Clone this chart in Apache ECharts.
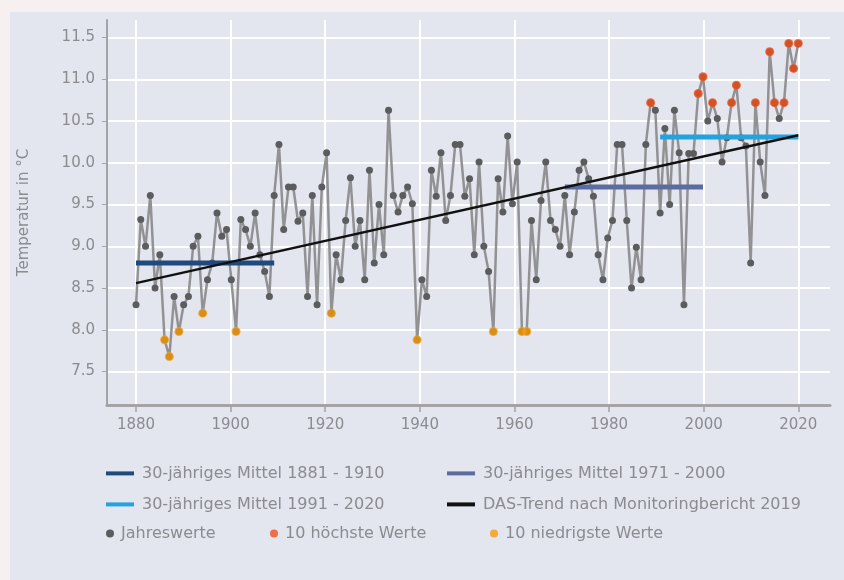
<!DOCTYPE html>
<html><head><meta charset="utf-8">
<script src="https://cdn.jsdelivr.net/npm/echarts@6/dist/echarts.min.js"></script>
<style>
html,body{margin:0;padding:0;background:#f6f1f0;}
#panel{position:absolute;left:10px;top:12px;right:0;bottom:0;background:#e3e5ef;}
#chart{position:absolute;left:0;top:0;width:844px;height:580px;}
</style></head><body>
<div id="panel"></div><div id="chart"></div>
<script>
// ---- data ----
const firstYear = 1881;
const annualValues = [
  8.30, 9.32, 9.00, 9.61, 8.50, 8.90, 7.88, 7.68, 8.40, 7.98,
  8.30, 8.40, 9.00, 9.12, 8.20, 8.60, 8.80, 9.40, 9.12, 9.20,
  8.60, 7.98, 9.32, 9.20, 9.00, 9.40, 8.90, 8.70, 8.40, 9.61,
  10.22, 9.20, 9.71, 9.71, 9.30, 9.40, 8.40, 9.61, 8.30, 9.71,
  10.12, 8.20, 8.90, 8.60, 9.31, 9.82, 9.00, 9.31, 8.60, 9.91,
  8.80, 9.50, 8.90, 10.63, 9.61, 9.41, 9.61, 9.71, 9.51, 7.88,
  8.60, 8.40, 9.91, 9.60, 10.12, 9.31, 9.61, 10.22, 10.22, 9.60,
  9.81, 8.90, 10.01, 9.00, 8.70, 7.98, 9.81, 9.41, 10.32, 9.51,
  10.01, 7.98, 7.98, 9.31, 8.60, 9.55, 10.01, 9.31, 9.20, 9.00,
  9.61, 8.90, 9.41, 9.91, 10.01, 9.81, 9.60, 8.90, 8.60, 9.10,
  9.31, 10.22, 10.22, 9.31, 8.50, 8.99, 8.60, 10.22, 10.72, 10.63,
  9.40, 10.41, 9.50, 10.63, 10.12, 8.30, 10.11, 10.11, 10.83, 11.03,
  10.50, 10.72, 10.53, 10.01, 10.30, 10.72, 10.93, 10.30, 10.20, 8.80,
  10.72, 10.01, 9.61, 11.33, 10.72, 10.53, 10.72, 11.43, 11.13, 11.43
];
const highYears = [1989, 1999, 2000, 2002, 2006, 2007, 2011, 2014, 2015, 2017, 2018, 2019, 2020];
const lowYears = [1887, 1888, 1890, 1895, 1902, 1922, 1940, 1956, 1962, 1963];
const meanNames = ['30-jähriges Mittel 1881 - 1910', '30-jähriges Mittel 1971 - 2000', '30-jähriges Mittel 1991 - 2020'];
const meanFrom = [1881, 1971, 1991];
const meanTo = [1910, 2000, 2020];
const meanValues = [8.80, 9.71, 10.31];
const trendName = 'DAS-Trend nach Monitoringbericht 2019';
const trendYears = [1881, 2020];
const trendValues = [8.56, 10.33];
const xTickLabels = [1880, 1900, 1920, 1940, 1960, 1980, 2000, 2020];
const yTickLabels = [7.5, 8.0, 8.5, 9.0, 9.5, 10.0, 10.5, 11.0, 11.5];
const seriesNames = ['Jahreswerte', '10 höchste Werte', '10 niedrigste Werte'];

// ---- build ----
const years = annualValues.map((v, i) => firstYear + i);
const yearData = years.map((y, i) => [y, annualValues[i]]);
const pick = list => list.map(y => [y, annualValues[years.indexOf(y)]]);

const FONT = "'DejaVu Sans', 'Liberation Sans', sans-serif";
const TXT = '#8b8b90';
const meanColors = ['#1f4a7d', '#5d6c9f', '#23a3de'];

const series = [
  {
    name: seriesNames[0], type: 'line', xAxisIndex: 1, data: yearData, z: 2,
    symbol: 'circle', symbolSize: 7, showSymbol: true,
    lineStyle: { color: '#929294', width: 2.5 },
    itemStyle: { color: '#5b5c5e' }
  }
];
meanNames.forEach((n, i) => series.push({
  name: n, type: 'line', xAxisIndex: 1, z: 3, symbol: 'none',
  data: [[meanFrom[i], meanValues[i]], [meanTo[i], meanValues[i]]],
  lineStyle: { color: meanColors[i], width: 5 }, itemStyle: { color: meanColors[i] }
}));
series.push({
  name: trendName, type: 'line', xAxisIndex: 1, z: 4, symbol: 'none',
  data: trendYears.map((y, i) => [y, trendValues[i]]),
  lineStyle: { color: '#111', width: 2.4 }, itemStyle: { color: '#111' }
});
series.push({
  name: seriesNames[1], type: 'scatter', xAxisIndex: 1, z: 5, symbolSize: 9,
  data: pick(highYears), itemStyle: { color: '#f0501a' }
});
series.push({
  name: seriesNames[2], type: 'scatter', xAxisIndex: 1, z: 5, symbolSize: 9,
  data: pick(lowYears), itemStyle: { color: '#f59c0c' }
});

function lg(name, left, centerY, isLine, gap) {
  const fs = 16;
  return {
    data: [name], left: left, top: centerY - fs * 0.6, padding: 0, orient: 'horizontal',
    icon: isLine ? 'rect' : 'circle',
    itemWidth: isLine ? 28 : 8, itemHeight: isLine ? 4 : 8, itemGap: 6,
    textStyle: { color: TXT, fontSize: fs, fontFamily: FONT, padding: [0, 0, 0, gap] },
    selectedMode: false
  };
}

const option = {
  animation: false,
  backgroundColor: 'transparent',
  textStyle: { fontFamily: FONT },
  grid: { left: 107, right: 14, top: 20, bottom: 175, containLabel: false },
  xAxis: [
    {
      type: 'value', min: 1873.87, max: 2026.7, position: 'bottom',
      axisLine: { show: true, lineStyle: { color: '#a3a3a8', width: 3 } },
      axisTick: { show: true, length: 7, customValues: xTickLabels, lineStyle: { color: '#a3a3a8', width: 1.5 } },
      axisLabel: { customValues: xTickLabels, formatter: v => String(v), color: TXT, fontSize: 15, fontFamily: FONT, margin: 13 },
      splitLine: { show: true, lineStyle: { color: '#ffffff', width: 2 } }
    },
    { type: 'value', min: 1874.913, max: 2026.653, show: false, position: 'top' }
  ],
  yAxis: {
    type: 'value', min: 7.1, max: 11.71,
    name: 'Temperatur in °C', nameLocation: 'middle', nameGap: 75,
    nameTextStyle: { color: TXT, fontSize: 15, fontFamily: FONT },
    axisLine: { show: true, lineStyle: { color: '#a3a3a8', width: 2 } },
    axisTick: { show: true, length: 5, customValues: yTickLabels, lineStyle: { color: '#a3a3a8' } },
    axisLabel: { customValues: yTickLabels, formatter: v => v.toFixed(1), color: TXT, fontSize: 15, fontFamily: FONT, margin: 12 },
    splitLine: { show: true, lineStyle: { color: '#ffffff', width: 2 } }
  },
  legend: [
    lg(meanNames[0], 106, 475, true, 3),
    lg(meanNames[1], 447, 475, true, 3),
    lg(meanNames[2], 106, 506, true, 3),
    lg(trendName, 447, 506, true, 3),
    lg(seriesNames[0], 106, 535, false, 2),
    lg(seriesNames[1], 270, 535, false, 2),
    lg(seriesNames[2], 490, 535, false, 2)
  ],
  series: series
};
const chart = echarts.init(document.getElementById('chart'), null, { renderer: 'canvas' });
chart.setOption(option);
</script>
</body></html>
